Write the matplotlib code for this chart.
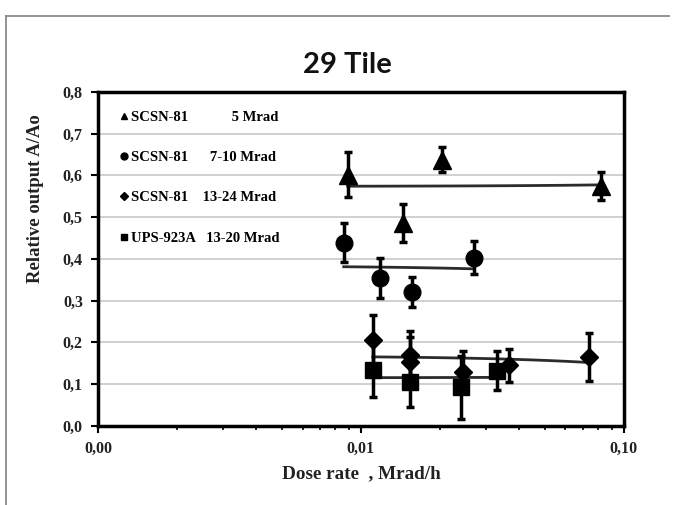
import matplotlib
matplotlib.use("Agg")
import matplotlib.pyplot as plt
from matplotlib.lines import Line2D
from matplotlib.ticker import FuncFormatter, LogLocator, MultipleLocator
import numpy as np

# Data (dose rate in Mrad/h, relative output A/Ao)
tri_x = [0.0089, 0.0144, 0.0203, 0.082]
tri_y = [0.602, 0.486, 0.638, 0.574]
tri_err = [0.055, 0.045, 0.030, 0.034]

circ_x = [0.0086, 0.0118, 0.0157, 0.027]
circ_y = [0.439, 0.353, 0.321, 0.403]
circ_err = [0.046, 0.048, 0.036, 0.040]

dia_x = [0.0111, 0.0154, 0.0154, 0.0244, 0.0366, 0.0736]
dia_y = [0.206, 0.170, 0.152, 0.128, 0.145, 0.165]
dia_err = [0.060, 0.058, 0.060, 0.050, 0.040, 0.058]

sq_x = [0.0111, 0.0154, 0.0240, 0.0330]
sq_y = [0.134, 0.104, 0.092, 0.132]
sq_err = [0.066, 0.060, 0.075, 0.046]

labels = ["SCSN-81            5 Mrad",
          "SCSN-81      7-10 Mrad",
          "SCSN-81    13-24 Mrad",
          "UPS-923A   13-20 Mrad"]

serif = "Liberation Serif"

fig = plt.figure(figsize=(6.81, 5.05), dpi=100)
ax = fig.add_axes([0.144, 0.157, 0.772, 0.661])

series = [
    (tri_x, tri_y, tri_err, "^", 13, 5),
    (circ_x, circ_y, circ_err, "o", 12, 5),
    (dia_x, dia_y, dia_err, "D", 9, 4),
    (sq_x, sq_y, sq_err, "s", 11, 5),
]

handles = []
for (x, y, e, m, ms, lms), lab in zip(series, labels):
    ax.errorbar(x, y, yerr=e, fmt=m, color="black", ms=ms, elinewidth=2.5,
                capsize=3, capthick=2.5, zorder=3)
    # linear trend line across the series
    k, b = np.polyfit(x, y, 1)
    xs = np.linspace(min(x), max(x), 50)
    ax.plot(xs, k * xs + b, color="#2b2b2b", lw=2, zorder=2)
    handles.append(Line2D([], [], ls="none", marker=m, color="black", ms=lms))

ax.set_xscale("log")
ax.set_xlim(0.001, 0.1)
ax.set_ylim(0, 0.8)
ax.yaxis.set_major_locator(MultipleLocator(0.1))
ax.xaxis.set_major_locator(LogLocator(base=10))
ax.xaxis.set_minor_locator(LogLocator(base=10, subs=np.arange(2, 10)))
ax.xaxis.set_major_formatter(FuncFormatter(lambda v, p: f"{v:.2f}".replace(".", ",")))
ax.xaxis.set_minor_formatter(FuncFormatter(lambda v, p: ""))
ax.yaxis.set_major_formatter(FuncFormatter(lambda v, p: f"{v:.1f}".replace(".", ",")))

ax.grid(axis="y", color="#c8c8c8", lw=1.2)
ax.set_axisbelow(True)
for s in ax.spines.values():
    s.set_linewidth(2.5)

ax.tick_params(axis="both", which="major", direction="out", length=5, width=1.5,
               labelsize=11.5, pad=6)
ax.tick_params(axis="x", which="minor", direction="out", length=3, width=1.2)
for t in ax.get_xticklabels() + ax.get_yticklabels():
    t.set_fontfamily(serif)
    t.set_fontweight("bold")
    t.set_color("#222222")

ax.set_xlabel("Dose rate  , Mrad/h", fontfamily=serif, fontweight="bold",
              fontsize=13.8, labelpad=6, color="#222222")
ax.set_ylabel("Relative output A/Ao", fontfamily=serif, fontweight="bold",
              fontsize=13.5, color="#222222")
ax.yaxis.set_label_coords(-0.102, 0.68)

leg = ax.legend(handles, labels, loc="upper left", bbox_to_anchor=(0.03, 0.962),
                frameon=False, handlelength=0.6, handletextpad=0.2,
                labelspacing=1.86, borderaxespad=0,
                prop={"family": serif, "weight": "bold", "size": 10.5})

fig.text(0.51, 0.871, "29 Tile", ha="center", va="center", fontsize=21,
         fontweight="bold", fontfamily="Lato", color="#111111")

# outer frame (top and left edges)
fig.add_artist(Line2D([0.009, 0.982], [0.968, 0.968], transform=fig.transFigure,
                      color="#8a8a8a", lw=1.3))
fig.add_artist(Line2D([0.009, 0.009], [0.968, 0.0], transform=fig.transFigure,
                      color="#8a8a8a", lw=1.3))

fig.savefig("out.png", dpi=100)
